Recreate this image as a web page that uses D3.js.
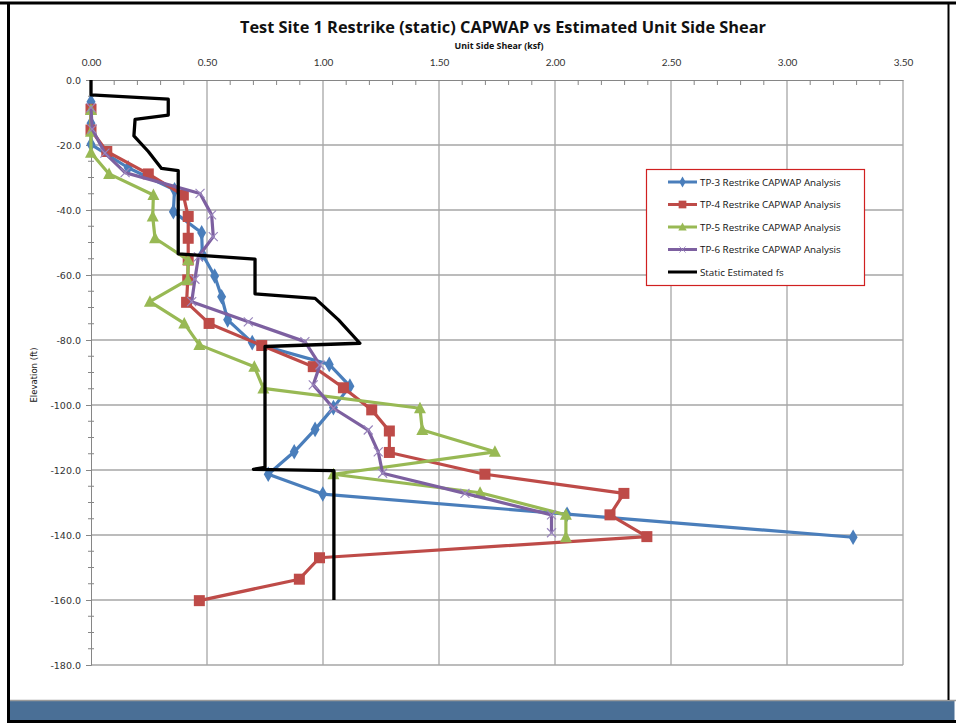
<!DOCTYPE html>
<html><head><meta charset="utf-8">
<script src="https://cdn.jsdelivr.net/npm/d3@7"></script>
<style>body{margin:0;background:#fff}svg{display:block}</style>
</head><body>
<svg id="c" width="956" height="723"></svg>
<script>
const xTicks = [0,0.5,1.0,1.5,2.0,2.5,3.0,3.5];
const yTicks = [0,-20,-40,-60,-80,-100,-120,-140,-160,-180];

const tp3Elev = [-6.7,-13.3,-19.8,-27,-33.8,-40.5,-47,-53.6,-60.3,-66.7,-73.8,-80.8,-87.5,-94.2,-100.8,-107.5,-114.4,-121.3,-127.4,-133.6,-140.7];
const tp3Fs   = [0,0,0,0.16,0.36,0.355,0.477,0.48,0.533,0.563,0.589,0.695,1.027,1.116,1.045,0.966,0.876,0.764,0.999,2.052,3.285];

const tp4Elev = [-9,-15.4,-22,-28.9,-35.4,-42,-48.7,-55.4,-61.5,-68.4,-74.9,-81.7,-88.2,-94.7,-101.5,-108,-114.6,-121.3,-127.2,-133.8,-140.5,-147,-153.6,-160.2];
const tp4Fs   = [0,0,0.068,0.247,0.398,0.419,0.419,0.419,0.417,0.412,0.509,0.736,0.958,1.088,1.21,1.286,1.286,1.698,2.297,2.237,2.396,0.985,0.898,0.467];

const tp5Elev = [-9.2,-15.9,-22.4,-28.9,-35.4,-42,-48.7,-55.4,-61.5,-68.2,-74.9,-81.5,-88.2,-94.9,-101,-107.7,-114.4,-121.3,-127,-133.8,-140.7];
const tp5Fs   = [0,0,0,0.078,0.269,0.266,0.276,0.419,0.417,0.254,0.402,0.467,0.704,0.743,1.418,1.428,1.741,1.045,1.677,2.047,2.047];

const tp6Elev = [-8.5,-15.1,-22.5,-28.5,-34.9,-41.5,-48.2,-54.4,-61.3,-68.2,-74.4,-80.5,-87.7,-93.8,-101,-107.7,-114.4,-121,-127.2,-133.8,-139.3];
const tp6Fs   = [0,0.005,0.06,0.147,0.47,0.52,0.527,0.463,0.448,0.434,0.678,0.922,0.987,0.958,1.045,1.195,1.238,1.257,1.612,1.985,1.985];

const estElev = [0,-4.6,-5.9,-10.8,-12.1,-17.2,-22,-27.2,-27.9,-53.5,-55.1,-65.8,-67.2,-73.8,-81,-82,-119.2,-119.8,-120.2,-160];
const estFs   = [0,0,0.333,0.333,0.19,0.185,0.247,0.304,0.376,0.376,0.707,0.707,0.966,1.067,1.159,0.75,0.75,0.70,1.047,1.047];

const seriesNames = ["TP-3 Restrike CAPWAP Analysis","TP-4 Restrike CAPWAP Analysis","TP-5 Restrike CAPWAP Analysis","TP-6 Restrike CAPWAP Analysis","Static Estimated fs"];

const series = [
  {name:seriesNames[0], x:tp3Fs, y:tp3Elev, color:"#4a7ebb", marker:"diamond"},
  {name:seriesNames[1], x:tp4Fs, y:tp4Elev, color:"#be4b48", marker:"square"},
  {name:seriesNames[2], x:tp5Fs, y:tp5Elev, color:"#98b954", marker:"triangle"},
  {name:seriesNames[3], x:tp6Fs, y:tp6Elev, color:"#7d60a0", marker:"x"},
  {name:seriesNames[4], x:estFs, y:estElev, color:"#000000", marker:null}
];

const svg = d3.select("#c");
const x = d3.scaleLinear().domain([0,3.5]).range([91,903]);
const y = d3.scaleLinear().domain([0,-180]).range([80,665]);

// frame
svg.append("rect").attr("x",0).attr("y",0).attr("width",956).attr("height",723).attr("fill","#fff");
svg.append("rect").attr("x",9.5).attr("y",701).attr("width",945).attr("height",20).attr("fill","#4a6f96");
svg.append("line").attr("x1",9).attr("x2",956).attr("y1",700.5).attr("y2",700.5).attr("stroke","#9a9a9a").attr("stroke-width",1.5);
svg.append("line").attr("x1",0).attr("x2",956).attr("y1",3).attr("y2",3).attr("stroke","#000").attr("stroke-width",3);
svg.append("line").attr("x1",8.5).attr("x2",8.5).attr("y1",2).attr("y2",723).attr("stroke","#000").attr("stroke-width",3);
svg.append("line").attr("x1",948.5).attr("x2",948.5).attr("y1",2).attr("y2",700).attr("stroke","#000").attr("stroke-width",2);
svg.append("line").attr("x1",8).attr("x2",956).attr("y1",721.5).attr("y2",721.5).attr("stroke","#000").attr("stroke-width",3);

// gridlines
const g = svg.append("g");
g.selectAll(".vg").data(xTicks.slice(1)).join("line")
  .attr("x1",d=>x(d)).attr("x2",d=>x(d)).attr("y1",y(0)).attr("y2",y(-180))
  .attr("stroke","#a6a6a6").attr("stroke-width",1.3);
g.selectAll(".hg").data(yTicks.slice(1)).join("line")
  .attr("x1",x(0)).attr("x2",x(3.5)).attr("y1",d=>y(d)).attr("y2",d=>y(d))
  .attr("stroke","#a6a6a6").attr("stroke-width",1.3);

// axes
const xAxis = d3.axisTop(x).tickValues(xTicks).tickFormat(d3.format(".2f")).tickSize(0).tickPadding(14);
const ax = svg.append("g").attr("transform",`translate(0,${y(0)})`).call(xAxis);
ax.select(".domain").attr("stroke","#868686");
ax.selectAll("text").attr("font-family","Lato, 'Open Sans', sans-serif").attr("font-size",10).attr("fill","#333");
// x minor ticks
svg.append("g").selectAll("line").data(d3.range(1,35).filter(i=>i%5!==0)).join("line")
  .attr("x1",i=>x(i/10)).attr("x2",i=>x(i/10)).attr("y1",y(0)).attr("y2",y(0)+5)
  .attr("stroke","#868686");

const yAxis = d3.axisLeft(y).tickValues(yTicks).tickFormat(d3.format(".1f")).tickSize(5).tickPadding(5);
const ay = svg.append("g").attr("transform",`translate(${x(0)},0)`).call(yAxis);
ay.select(".domain").attr("stroke","#868686");
ay.selectAll(".tick line").attr("stroke","#868686");
ay.selectAll("text").attr("font-family","'DejaVu Sans', sans-serif").attr("font-size",9.5).attr("fill","#333")
  .text(d=>d===0?"0.0":d3.format(".1f")(d).replace("−","-"));
// y minor ticks
svg.append("g").selectAll("line").data(d3.range(1,36).filter(i=>i%4!==0)).join("line")
  .attr("x1",x(0)-3).attr("x2",x(0)+3).attr("y1",i=>y(-5*i)).attr("y2",i=>y(-5*i))
  .attr("stroke","#868686");

// titles
svg.append("text").attr("x",503).attr("y",33).attr("text-anchor","middle")
  .attr("font-family","'Open Sans', sans-serif").attr("font-weight","bold").attr("font-size",16.5)
  .attr("textLength",526).attr("lengthAdjust","spacingAndGlyphs").attr("fill","#111")
  .text("Test Site 1 Restrike (static) CAPWAP vs Estimated Unit Side Shear");
svg.append("text").attr("x",499).attr("y",49).attr("text-anchor","middle")
  .attr("font-family","'Open Sans', sans-serif").attr("font-weight","bold").attr("font-size",9)
  .attr("textLength",89).attr("lengthAdjust","spacingAndGlyphs").attr("fill","#111")
  .text("Unit Side Shear (ksf)");
svg.append("text").attr("transform","translate(37,375) rotate(-90)").attr("text-anchor","middle")
  .attr("font-family","'DejaVu Sans', sans-serif").attr("font-size",8.5).attr("fill","#111")
  .text("Elevation (ft)");

// series
const line = d3.line().x(d=>x(d[0])).y(d=>y(d[1]));
const plot = svg.append("g");
function drawMarker(sel, type, color){
  if(type==="diamond"){
    sel.append("path").attr("d",d3.symbol(d3.symbolDiamond,70)()).attr("fill",color);
  } else if(type==="square"){
    sel.append("rect").attr("x",-5.5).attr("y",-5.5).attr("width",11).attr("height",11).attr("fill",color);
  } else if(type==="triangle"){
    sel.append("path").attr("d","M0,-6.5L6,5L-6,5Z").attr("fill",color);
  } else if(type==="x"){
    sel.append("path").attr("d","M-4.5,-4.5L4.5,4.5M-4.5,4.5L4.5,-4.5").attr("stroke","#9a86bd").attr("stroke-width",1.2).attr("fill","none");
  }
}
series.forEach(s=>{
  const pts = s.x.map((v,i)=>[v,s.y[i]]);
  plot.append("path").attr("d",line(pts)).attr("fill","none").attr("stroke",s.color)
    .attr("stroke-width",s.marker?3.2:3.3).attr("stroke-linejoin","round");
  if(s.marker){
    pts.forEach(p=>{
      const m = plot.append("g").attr("transform",`translate(${x(p[0])},${y(p[1])})`);
      drawMarker(m, s.marker, s.color);
    });
  }
});

// legend
const lg = svg.append("g");
lg.append("rect").attr("x",646.5).attr("y",169.5).attr("width",218).attr("height",116)
  .attr("fill","#fff").attr("stroke","#d02020").attr("stroke-width",1.2);
series.forEach((s,i)=>{
  const yy = 182 + i*22.5;
  lg.append("line").attr("x1",668).attr("x2",697).attr("y1",yy).attr("y2",yy)
    .attr("stroke",s.color).attr("stroke-width",3);
  if(s.marker){
    const m = lg.append("g").attr("transform",`translate(682.5,${yy}) scale(0.7)`);
    drawMarker(m, s.marker, s.color);
  }
  lg.append("text").attr("x",700).attr("y",yy+3.5)
    .attr("font-family","'Open Sans', sans-serif").attr("font-size",9.8).attr("fill","#111")
    .text(s.name);
});
</script>
</body></html>
